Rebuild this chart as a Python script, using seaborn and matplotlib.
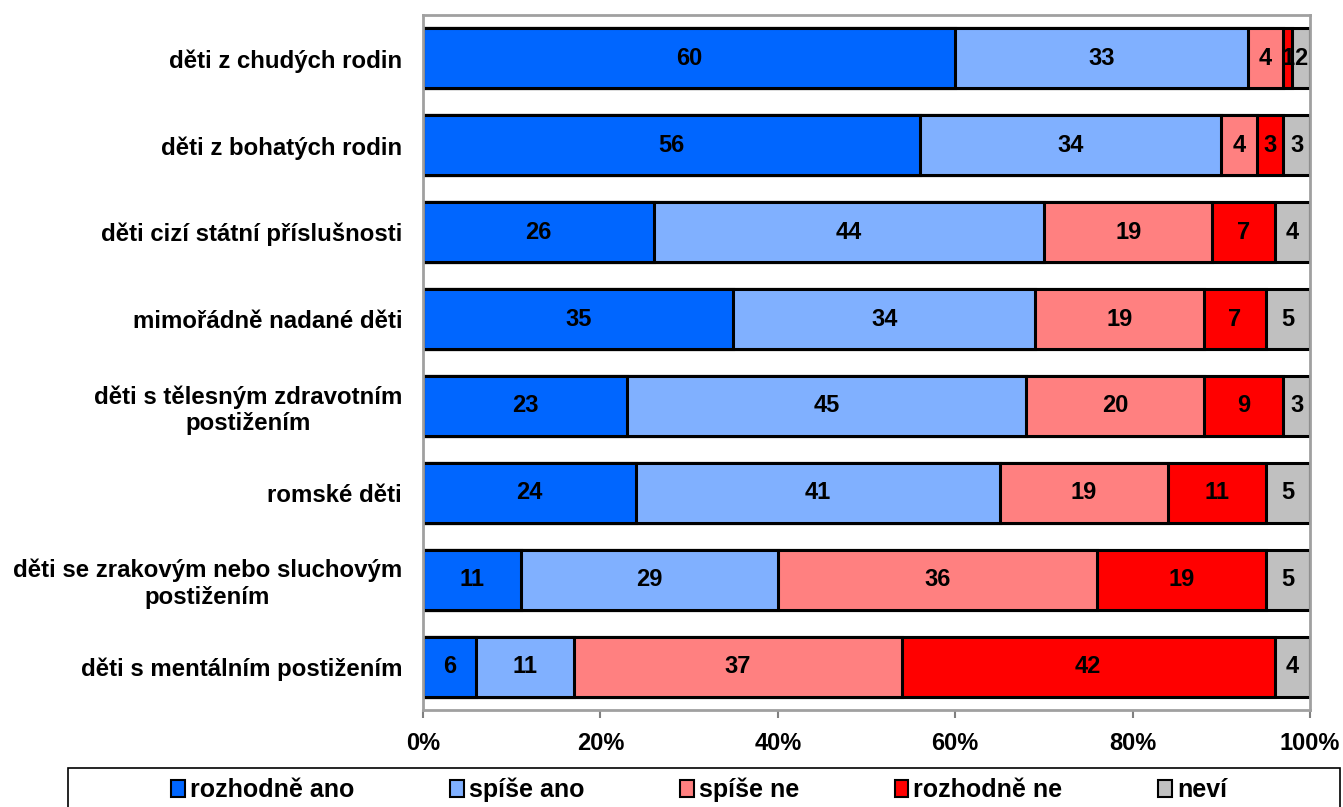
import matplotlib
matplotlib.use("Agg")
import matplotlib.pyplot as plt
import seaborn as sns
import numpy as np
import pandas as pd
from matplotlib.patches import Patch, Rectangle

categories = [
    "děti z chudých rodin",
    "děti z bohatých rodin",
    "děti cizí státní příslušnosti",
    "mimořádně nadané děti",
    "děti s tělesným zdravotním\npostižením",
    "romské děti",
    "děti se zrakovým nebo sluchovým\npostižením",
    "děti s mentálním postižením",
]
series_names = ["rozhodně ano", "spíše ano", "spíše ne", "rozhodně ne", "neví"]
rozhodne_ano = [60, 56, 26, 35, 23, 24, 11, 6]
spise_ano = [33, 34, 44, 34, 45, 41, 29, 11]
spise_ne = [4, 4, 19, 19, 20, 19, 36, 37]
rozhodne_ne = [1, 3, 7, 7, 9, 11, 19, 42]
nevi = [2, 3, 4, 5, 3, 5, 5, 4]
colors = ["#0066FF", "#80B0FF", "#FF8080", "#FF0000", "#C0C0C0"]
xtick_labels = ["0%", "20%", "40%", "60%", "80%", "100%"]

sns.set_style("white")
plt.rcParams['font.family'] = ['Liberation Sans', 'DejaVu Sans']
plt.rcParams['font.weight'] = 'bold'
plt.rcParams['text.color'] = 'black'
plt.rcParams['xtick.color'] = 'black'
plt.rcParams['ytick.color'] = 'black'

FS = 17

series = [rozhodne_ano, spise_ano, spise_ne, rozhodne_ne, nevi]
vals = np.array(series, dtype=float)
cum = np.cumsum(vals, axis=0)

fig = plt.figure(figsize=(13.43, 8.07), dpi=100)
ax = fig.add_axes([423/1343, 1-710/807, (1310-423)/1343, (710-15)/807])

# draw from the last cumulative layer to the first
for i in range(len(series)-1, -1, -1):
    df = pd.DataFrame({"cat": categories, "val": cum[i]})
    sns.barplot(data=df, x="val", y="cat", orient="h", color=colors[i],
                saturation=1, width=0.69, edgecolor="black", linewidth=2.2, ax=ax)

for i in range(len(series)):
    for j in range(len(categories)):
        v = vals[i, j]
        ax.text(cum[i, j] - v/2, j, f"{int(v)}", ha="center", va="center",
                fontsize=FS, fontweight="bold", color="black")

ax.set_xlim(0, 100)
ax.set_ylim(7.5, -0.5)
ax.set_xlabel("")
ax.set_ylabel("")
ax.set_xticks([0, 20, 40, 60, 80, 100])
ax.set_xticklabels(xtick_labels, fontsize=FS, fontweight="bold", color="black")
ax.set_yticks(range(len(categories)))
ax.set_yticklabels(categories, fontsize=17.3, fontweight="bold", multialignment="center", color="black")
ax.set_yticks(np.arange(-0.5, 8.0, 1.0), minor=True)
ax.tick_params(axis="y", which="major", length=0, pad=15)
ax.tick_params(axis="y", which="minor", length=6, width=1.5, color="#808080", direction="out")
ax.tick_params(axis="x", which="major", length=6, width=1.5, color="#808080", direction="out", pad=10)
ax.tick_params(left=True, bottom=True)
for s in ax.spines.values():
    s.set_visible(True)
    s.set_color("#A0A0A0")
    s.set_linewidth(2)
ax.grid(False)

# legend frame
fig.patches.append(Rectangle((68/1343, -0.02), (1340-68)/1343, (807-768)/807 + 0.02,
                             transform=fig.transFigure, facecolor="white",
                             edgecolor="black", linewidth=1.2))
handles = [Patch(facecolor=c, edgecolor="black", linewidth=1.5) for c in colors]
fig.legend(handles, series_names, loc="center", bbox_to_anchor=(699/1343, 1-790/807),
           ncol=5, frameon=False, fontsize=18, handlelength=0.55, handleheight=0.65,
           handletextpad=0.2, columnspacing=3.83, borderpad=0)

fig.savefig("out.png", dpi=100)
